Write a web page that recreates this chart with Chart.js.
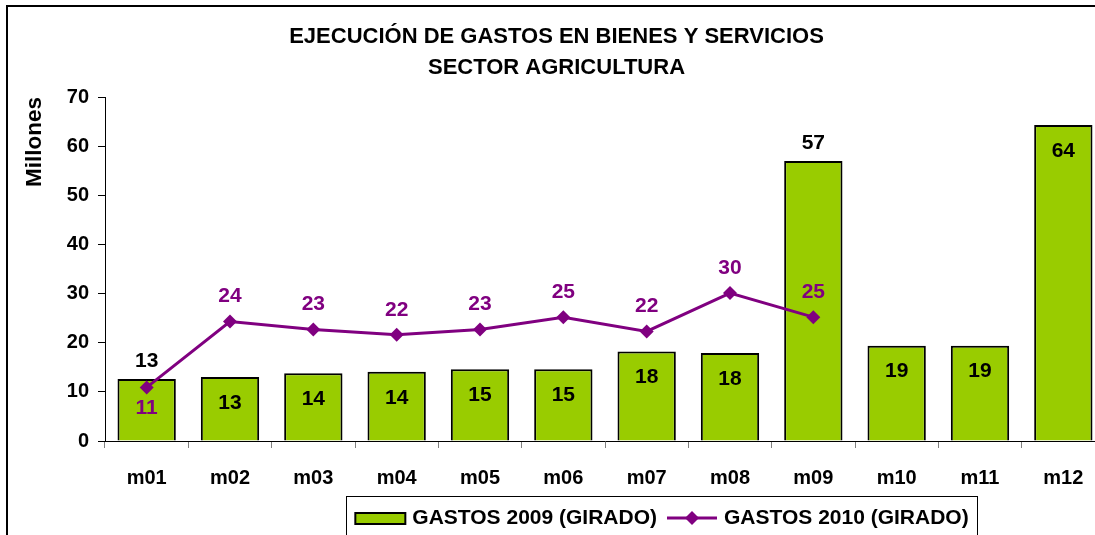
<!DOCTYPE html>
<html>
<head>
<meta charset="utf-8">
<script src="https://cdn.jsdelivr.net/npm/chart.js@4.4.1/dist/chart.umd.min.js"></script>
<style>
    html, body { margin: 0; padding: 0; background: #fff; overflow: hidden; }
    #frame {
        position: absolute; left: 6px; top: 5px;
        width: 1105px; height: 540px;
        border-left: 2px solid #000; border-top: 2px solid #000;
    }
    canvas { display: block; }
</style>
</head>
<body>
<div id="frame"><canvas id="gastosChart" width="1105" height="540"></canvas></div>
<script>
const months = ['m01', 'm02', 'm03', 'm04', 'm05', 'm06', 'm07', 'm08', 'm09', 'm10', 'm11', 'm12'];
const gastos2009 = [12.6, 13.0, 13.8, 14.1, 14.6, 14.6, 18.2, 17.9, 57.0, 19.4, 19.4, 64.3];
const gastos2010 = [10.9, 24.3, 22.7, 21.6, 22.7, 25.2, 22.3, 30.1, 25.2, null, null, null];
const titleLines = ['EJECUCIÓN DE GASTOS EN BIENES Y SERVICIOS', 'SECTOR AGRICULTURA'];

const GREEN = '#99CC00';
const PURPLE = '#800080';
const FONT = "'Liberation Sans', Arial, sans-serif";

// labels pushed off their usual spot so they don't collide
const barLabelAbove = [0, 8];
const lineLabelBelow = [0];

const VALUE_LABELS_PLUGIN = {
    id: 'valueLabels',
    afterDatasetsDraw(chart) {
        const ctx = chart.ctx;
        ctx.save();
        ctx.font = 'bold 21px ' + FONT;
        ctx.textAlign = 'center';
        ctx.textBaseline = 'middle';
        chart.data.datasets.forEach((ds, i) => {
            const meta = chart.getDatasetMeta(i);
            meta.data.forEach((el, j) => {
                const v = ds.data[j];
                if (v == null) return;
                let y;
                if (ds.type === 'bar') {
                    y = barLabelAbove.includes(j) ? el.y - 18 : el.y + 26;
                    ctx.fillStyle = '#000';
                } else {
                    y = lineLabelBelow.includes(j) ? el.y + 21 : el.y - 25;
                    ctx.fillStyle = PURPLE;
                }
                ctx.fillText(String(Math.round(v)), el.x, y);
            });
        });
        ctx.restore();
    }
};

// legend drawn inside a framed box, bar swatch then line-with-diamond
const BOXED_LEGEND_PLUGIN = {
    id: 'boxedLegend',
    afterDraw(chart, args, opts) {
        const ctx = chart.ctx;
        ctx.save();
        ctx.font = 'bold 21px ' + FONT;
        ctx.textBaseline = 'middle';
        ctx.textAlign = 'left';
        const items = chart.data.datasets.map(ds => ({ ds, w: ctx.measureText(ds.label).width }));
        const total = items.reduce((s, it) => s + opts.markerWidth + opts.markerGap + it.w, 0)
            + opts.itemGap * (items.length - 1);
        let x = opts.centerX - total / 2;
        ctx.strokeStyle = '#000';
        ctx.lineWidth = 1;
        ctx.strokeRect(Math.round(x - opts.padX) + 0.5, opts.top + 0.5, Math.round(total + opts.padX * 2), opts.height);
        const cy = opts.top + opts.height / 2;
        items.forEach(it => {
            const ds = it.ds;
            if (ds.type === 'bar') {
                ctx.fillStyle = ds.backgroundColor;
                ctx.fillRect(x, cy - 5, opts.markerWidth, 11);
                ctx.strokeStyle = '#000';
                ctx.lineWidth = 2;
                ctx.strokeRect(x, cy - 5, opts.markerWidth, 11);
            } else {
                ctx.strokeStyle = ds.borderColor;
                ctx.lineWidth = ds.borderWidth;
                ctx.beginPath();
                ctx.moveTo(x, cy);
                ctx.lineTo(x + opts.markerWidth, cy);
                ctx.stroke();
                const mx = x + opts.markerWidth / 2, r = ds.pointRadius;
                ctx.fillStyle = ds.pointBackgroundColor;
                ctx.beginPath();
                ctx.moveTo(mx, cy - r);
                ctx.lineTo(mx + r, cy);
                ctx.lineTo(mx, cy + r);
                ctx.lineTo(mx - r, cy);
                ctx.closePath();
                ctx.fill();
            }
            x += opts.markerWidth + opts.markerGap;
            ctx.fillStyle = '#000';
            ctx.fillText(ds.label, x, cy);
            x += it.w + opts.itemGap;
        });
        ctx.restore();
    }
};

const tickFont = { size: 20, weight: 'bold', family: FONT };

new Chart(document.getElementById('gastosChart'), {
    type: 'bar',
    plugins: [VALUE_LABELS_PLUGIN, BOXED_LEGEND_PLUGIN],
    data: {
        labels: months,
        datasets: [
            {
                type: 'bar',
                label: 'GASTOS 2009 (GIRADO)',
                data: gastos2009,
                backgroundColor: GREEN,
                borderColor: '#000',
                borderWidth: 2,
                barPercentage: 0.7,
                categoryPercentage: 1.0,
                order: 1
            },
            {
                type: 'line',
                label: 'GASTOS 2010 (GIRADO)',
                data: gastos2010,
                borderColor: PURPLE,
                borderWidth: 3,
                pointStyle: 'rectRot',
                pointRadius: 7,
                pointBackgroundColor: PURPLE,
                pointBorderColor: PURPLE,
                pointBorderWidth: 0,
                tension: 0,
                spanGaps: false,
                order: 0
            }
        ]
    },
    options: {
        responsive: false,
        animation: false,
        devicePixelRatio: 1,
        layout: { padding: { left: 0, right: 8, top: 0, bottom: 39 } },
        plugins: {
            legend: { display: false },
            tooltip: { enabled: false },
            title: {
                display: true,
                text: titleLines,
                color: '#000',
                font: { size: 22, weight: 'bold', family: FONT, lineHeight: 1.41 },
                padding: { top: 14, bottom: 14 }
            },
            boxedLegend: {
                centerX: 654, top: 489, height: 44,
                padX: 9, markerWidth: 50, markerGap: 7, itemGap: 10
            }
        },
        scales: {
            x: {
                offset: true,
                grid: { drawOnChartArea: false, offset: true, tickLength: 7, color: '#808080' },
                border: { color: '#000', width: 1 },
                ticks: { color: '#000', font: tickFont, padding: 18, maxRotation: 0 }
            },
            y: {
                min: 0,
                max: 70,
                ticks: { stepSize: 10, color: '#000', font: tickFont, padding: 9 },
                grid: { drawOnChartArea: false, tickLength: 7, color: '#000' },
                border: { color: '#000', width: 1 },
                title: {
                    display: true,
                    text: 'Millones',
                    align: 'end',
                    color: '#000',
                    font: { size: 22.5, weight: 'bold', family: FONT },
                    padding: { top: 13, bottom: 0 }
                },
                afterFit(scale) { scale.width = 97; }
            }
        }
    }
});
</script>
</body>
</html>
